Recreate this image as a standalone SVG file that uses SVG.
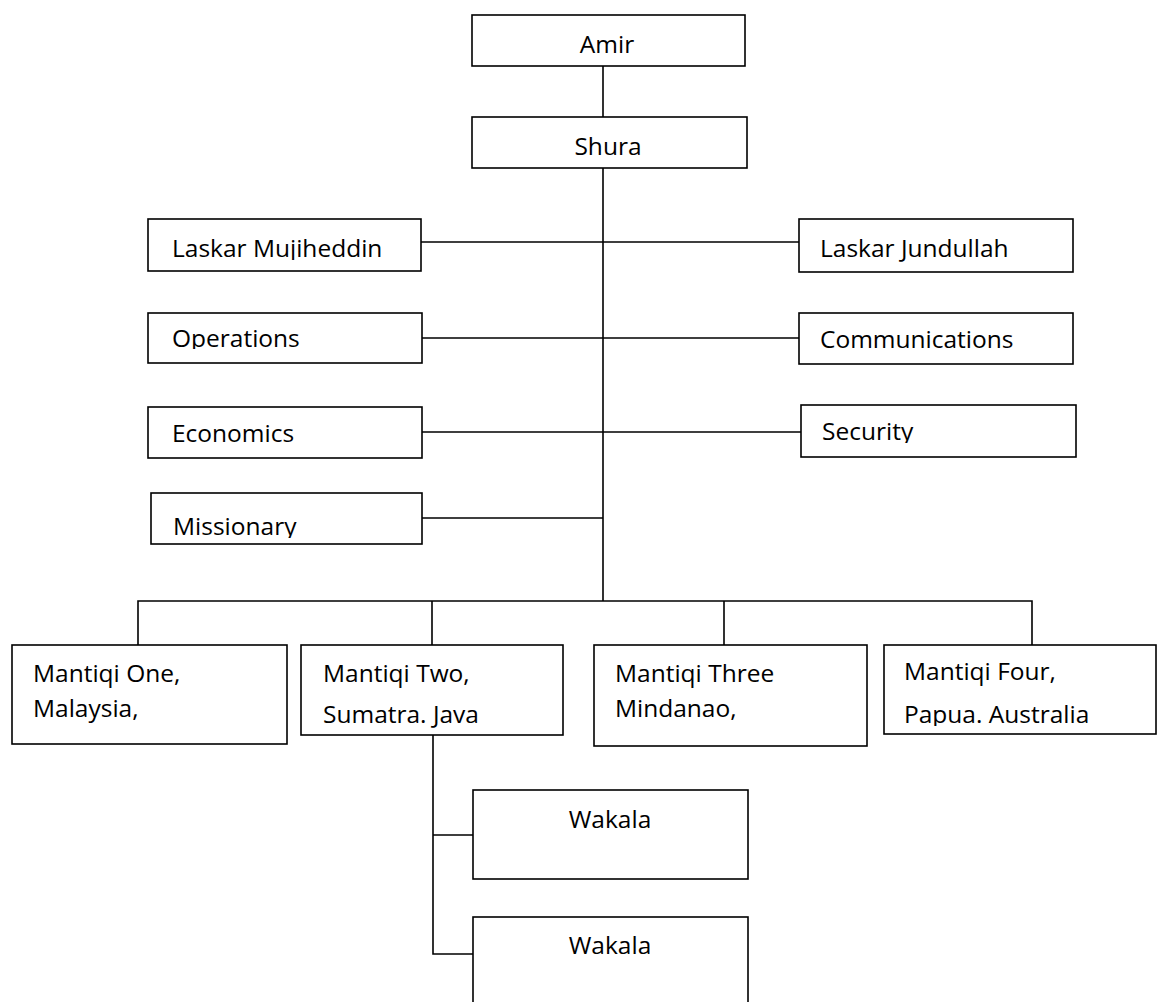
<svg xmlns="http://www.w3.org/2000/svg" width="1157" height="1002" viewBox="0 0 1157 1002">
<style>
.box{fill:#fff;stroke:#000;stroke-width:1.6}
.ln{fill:none;stroke:#000;stroke-width:1.6}
text{font-family:"Open Sans","Liberation Sans",sans-serif;font-size:24.5px;fill:#000}
.c{text-anchor:middle}
</style>
<defs>
<clipPath id="cMis"><rect x="148" y="493" width="274" height="45"/></clipPath>
<clipPath id="cOps"><rect x="148" y="313" width="274" height="36"/></clipPath>
<clipPath id="cLM"><rect x="148" y="219" width="274" height="41"/></clipPath>
<clipPath id="cSec"><rect x="801" y="405" width="275" height="38"/></clipPath>
<clipPath id="cM4"><rect x="884" y="645" width="273" height="81"/></clipPath>
</defs>
<rect width="1157" height="1002" fill="#fff"/>
<g id="connectors">
<path class="ln" d="M603 66V117M603 168V601"/>
<path class="ln" d="M421 242H799M422 338H799M422 432H801M422 518H603"/>
<path class="ln" d="M138 645V601H1032V645M432 601V645M724 601V645"/>
<path class="ln" d="M433 735V954H473M433 835H473"/>
</g>
<g id="amir"><rect class="box" x="472" y="15" width="273" height="51"/><text class="c" x="607" y="53">Amir</text></g>
<g id="shura"><rect class="box" x="472" y="117" width="275" height="51"/><text class="c" x="608" y="155">Shura</text></g>
<g id="laskar-mujiheddin"><rect class="box" x="148" y="219" width="273" height="52"/><text x="172" y="257" clip-path="url(#cLM)">Laskar Mujiheddin</text></g>
<g id="operations"><rect class="box" x="148" y="313" width="274" height="50"/><text x="172" y="347" clip-path="url(#cOps)">Operations</text></g>
<g id="economics"><rect class="box" x="148" y="407" width="274" height="51"/><text x="172" y="442">Economics</text></g>
<g id="missionary"><rect class="box" x="151" y="493" width="271" height="51"/><text x="173" y="535" clip-path="url(#cMis)">Missionary</text></g>
<g id="laskar-jundullah"><rect class="box" x="799" y="219" width="274" height="53"/><text x="820" y="257">Laskar Jundullah</text></g>
<g id="communications"><rect class="box" x="799" y="313" width="274" height="51"/><text x="820" y="348">Communications</text></g>
<g id="security"><rect class="box" x="801" y="405" width="275" height="52"/><text x="822" y="440" clip-path="url(#cSec)">Security</text></g>
<g id="mantiqi-one"><rect class="box" x="12" y="645" width="275" height="99"/><text x="33" y="682">Mantiqi One,</text><text x="33" y="717">Malaysia,</text></g>
<g id="mantiqi-two"><rect class="box" x="301" y="645" width="262" height="90"/><text x="323" y="682">Mantiqi Two,</text><text x="323" y="723">Sumatra. Java</text></g>
<g id="mantiqi-three"><rect class="box" x="594" y="645" width="273" height="101"/><text x="615" y="682">Mantiqi Three</text><text x="615" y="717">Mindanao,</text></g>
<g id="mantiqi-four"><rect class="box" x="884" y="645" width="272" height="89"/><text x="904" y="680" clip-path="url(#cM4)">Mantiqi Four,</text><text x="904" y="723" clip-path="url(#cM4)">Papua. Australia</text></g>
<g id="wakala-1"><rect class="box" x="473" y="790" width="275" height="89"/><text class="c" x="610" y="828">Wakala</text></g>
<g id="wakala-2"><rect class="box" x="473" y="917" width="275" height="95"/><text class="c" x="610" y="954">Wakala</text></g>
</svg>
